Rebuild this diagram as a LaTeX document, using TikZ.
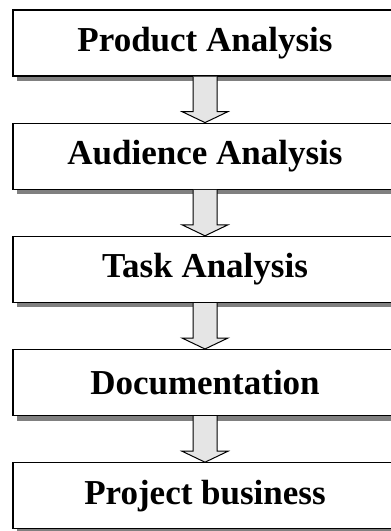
\documentclass[tikz,border=0pt]{standalone}
\usepackage{fontspec}
\setmainfont{Liberation Serif}
\usetikzlibrary{calc,positioning,shadows}

\tikzset{
    stage/.style={
        draw=black,
        line width=1.2pt,
        fill=white,
        minimum width=384pt,
        minimum height=66pt,
        inner sep=0pt,
        font=\fontsize{35}{40}\selectfont\bfseries,
        drop shadow={shadow xshift=4pt,shadow yshift=-5pt,fill=black!50,opacity=1}
    },
    fatarrow/.style={
        draw=black,
        line width=1pt,
        fill=black!10,
        line join=miter
    }
}

% Strzalka blokowa miedzy dwoma etapami
\newcommand{\stagearrow}[2]{%
    \filldraw[fatarrow]
        ($(#1.south)+(-12pt,0)$)
        --
        ($(#2.north)+(-12pt,11pt)$)
        --
        ($(#2.north)+(-23pt,11pt)$)
        --
        (#2.north)
        --
        ($(#2.north)+(23pt,11pt)$)
        --
        ($(#2.north)+(12pt,11pt)$)
        --
        ($(#1.south)+(12pt,0)$);
}

\begin{document}
\begin{tikzpicture}[
    x=1pt,
    y=-1pt,
    node distance=46pt
]

\clip (0,0) rectangle (391,531);
\useasboundingbox (0,0) rectangle (391,531);

% Etapy
\node[stage] (product) at (205,43)
    {Product Analysis};

\node[stage,below=of product] (audience)
    {Audience Analysis};

\node[stage,below=of audience] (task)
    {Task Analysis};

\node[stage,below=of task] (docs)
    {Documentation};

\node[stage,below=of docs] (business)
    {Project business};

% Strzalki
\stagearrow{product}{audience}
\stagearrow{audience}{task}
\stagearrow{task}{docs}
\stagearrow{docs}{business}

\end{tikzpicture}
\end{document}
